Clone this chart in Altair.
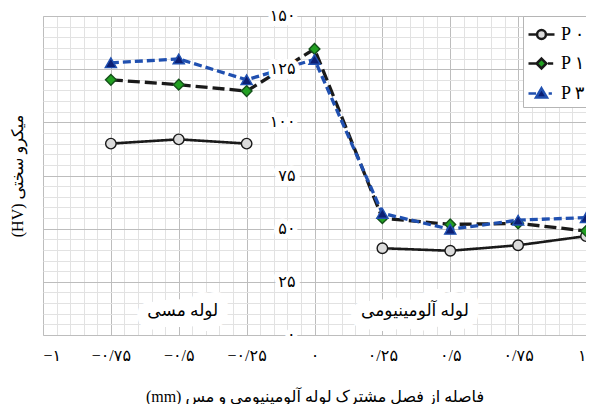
import altair as alt
import pandas as pd

# ---------------- data ----------------
x_pos = [-0.75, -0.5, -0.25, 0, 0.25, 0.5, 0.75, 1]
series_names = ["P ۰", "P ۱", "P ۳"]
p0 = [90.0, 92.0, 90.0, None, 40.8, 39.6, 42.2, 46.5]
p1 = [120.0, 117.7, 114.7, 134.5, 54.9, 52.0, 52.5, 48.9]
p3 = [128.0, 129.8, 120.0, 129.6, 57.2, 49.7, 54.0, 55.2]

x_ticks = [-1, -0.75, -0.5, -0.25, 0, 0.25, 0.5, 0.75, 1]
x_tick_labels = ["−۱", "−۰/۷۵", "−۰/۵", "−۰/۲۵", "۰", "۰/۲۵", "۰/۵", "۰/۷۵", "۱"]
y_ticks = [0, 25, 50, 75, 100, 125, 150]
y_tick_labels = ["۰", "۲۵", "۵۰", "۷۵", "۱۰۰", "۱۲۵", "۱۵۰"]

region_labels = ["لوله مسی", "لوله آلومینیومی"]
region_x = [-0.485, 0.37]
region_y = [11.5, 11.5]

x_title = "(mm) فاصله از فصل مشترک لوله آلومینیومی و مس"
y_title = "(HV) میکرو سختی"

# ---------------- styles ----------------
FONT = "Liberation Serif, DejaVu Sans"
line_colors = ["#1a1a1a", "#1a1a1a", "#2050b0"]
line_dashes = [[1, 0], [12, 5], [8, 4]]
line_widths = [2.6, 3.3, 3.3]
marker_shapes = ["circle", "diamond", "triangle-up"]
marker_fills = ["#dcdcdc", "#22a022", "#0c1f73"]
marker_strokes = ["#1a1a1a", "#14501a", "#2050b0"]
marker_sizes = [110, 115, 125]
legend_paths = [
    "M-1,0H-0.36M0.36,0H1M0.34,0A0.34,0.34 0 1,1 -0.34,0A0.34,0.34 0 1,1 0.34,0Z",
    "M-1,0H-0.42M0.5,0H0.9M0,-0.38L0.38,0L0,0.38L-0.38,0Z",
    "M-1,0H-0.42M0.55,0H0.8M0,-0.4L0.42,0.3L-0.42,0.3Z",
]

rows = []
for name, vals in zip(series_names, [p0, p1, p3]):
    for xv, yv in zip(x_pos, vals):
        rows.append({"series": name, "x": xv, "y": yv})
df = pd.DataFrame(rows)

minor_x = [round(-1 + 0.05 * i, 2) for i in range(41)]
minor_y = [5 * i for i in range(31)]

label_expr = " : ".join(
    f"abs(datum.value - ({v})) < 1e-6 ? '{t}'" for v, t in zip(x_ticks, x_tick_labels)
) + " : ''"

x_axis = alt.Axis(
    values=minor_x, ticks=False, domain=False, labelExpr=label_expr,
    labelFont=FONT, labelFontSize=16, labelColor="black", labelPadding=12,
    labelFlush=True, labelOverlap=False, labelBound=False,
    gridColor={"condition": {"test": "abs(datum.value*4 - round(datum.value*4)) < 1e-6",
                             "value": "#bdbdbd"}, "value": "#e2e2e2"},
    title=x_title, titleFont=FONT, titleFontSize=16, titleFontWeight="normal",
    titleColor="black", titlePadding=25,
)
y_axis = alt.Axis(
    values=minor_y, ticks=False, domain=False, labels=False,
    gridColor={"condition": {"test": "datum.value % 25 === 0", "value": "#bdbdbd"},
               "value": "#e2e2e2"},
    title=y_title, titleFont=FONT, titleFontSize=16, titleFontWeight="normal",
    titleColor="black", titlePadding=18,
)
X = alt.X("x:Q", scale=alt.Scale(domain=[-1, 1], nice=False, zero=False), axis=x_axis)
Y = alt.Y("y:Q", scale=alt.Scale(domain=[0, 150], nice=False, zero=True), axis=y_axis)

layers = []
for i, name in enumerate(series_names):
    layers.append(
        alt.Chart(df).transform_filter(alt.datum.series == name).mark_line(
            color=line_colors[i], strokeWidth=line_widths[i], strokeDash=line_dashes[i],
            invalid="break-paths-show-domains",
        ).encode(x=X, y=Y)
    )
for i, name in enumerate(series_names):
    layers.append(
        alt.Chart(df).transform_filter(
            (alt.datum.series == name) & alt.expr.isValid(alt.datum.y)
        ).mark_point(
            shape=marker_shapes[i], filled=True, fill=marker_fills[i],
            stroke=marker_strokes[i], strokeWidth=1.4, size=marker_sizes[i], opacity=1,
        ).encode(x=X, y=Y)
    )

# y tick labels drawn at x = 0 with a white background halo
ylab = pd.DataFrame({"x": [0] * len(y_ticks), "y": y_ticks, "label": y_tick_labels})
layers.append(alt.Chart(ylab).mark_text(
    align="right", baseline="middle", dx=-19, font=FONT, fontSize=16,
    color="white", stroke="white", strokeWidth=10, strokeJoin="round",
).encode(x=X, y=Y, text="label:N"))
layers.append(alt.Chart(ylab).mark_text(
    align="right", baseline="middle", dx=-19, font=FONT, fontSize=16, color="black",
).encode(x=X, y=Y, text="label:N"))

# region labels
reg = pd.DataFrame({"x": region_x, "y": region_y, "label": region_labels})
layers.append(alt.Chart(reg).mark_text(
    align="center", baseline="middle", font=FONT, fontSize=17,
    color="white", stroke="white", strokeWidth=22, strokeJoin="round",
).encode(x=X, y=Y, text="label:N"))
layers.append(alt.Chart(reg).mark_text(
    align="center", baseline="middle", font=FONT, fontSize=17, color="black",
).encode(x=X, y=Y, text="label:N"))

# legend layer (no visible marks, only the legend)
leg = alt.Legend(
    orient="none", legendX=480, legendY=0, title=None, padding=4,
    fillColor="white", strokeColor="#b5b5b5", symbolSize=676, symbolStrokeWidth=2.5,
    symbolOpacity=1, labelFont=FONT, labelFontSize=18, labelColor="black",
    labelOffset=5, rowPadding=5, cornerRadius=0,
)
sdf = pd.DataFrame({"series": series_names})
layers.append(alt.Chart(sdf).transform_filter("false").mark_point(filled=True).encode(
    shape=alt.Shape("series:N", scale=alt.Scale(domain=series_names, range=legend_paths), legend=leg),
    stroke=alt.Stroke("series:N", scale=alt.Scale(domain=series_names, range=line_colors), legend=leg),
    fill=alt.Fill("series:N", scale=alt.Scale(domain=series_names, range=marker_fills), legend=leg),
))

chart = alt.layer(*layers).properties(
    width=543, height=319,
    autosize=alt.AutoSizeParams(type="none"),
    padding={"left": 35, "top": 8, "right": 0, "bottom": 69},
).configure_view(stroke=None).configure(background="white")

chart.save("out.html", embed_options={"renderer": "svg", "actions": False})
